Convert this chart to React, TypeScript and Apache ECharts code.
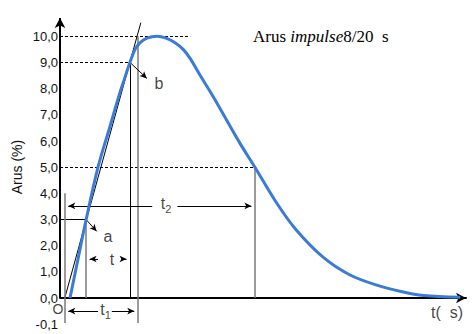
import React, { useEffect, useRef } from 'react';
import * as echarts from 'echarts';

// ---- data ----
// impulse current curve: time (µs) and current level
const curveTime = [0.55, 1.4, 2.25, 3.5, 4.75, 5.8, 6.35, 6.85, 7.4, 7.9, 8.65, 9.7, 10.65, 11.6, 12.45, 13.2, 14.25, 15.6, 18.45, 20.0, 22.25, 24.35, 27.2, 29.9, 32.75, 35.6, 37.7, 41.6];
const curveCurrent = [0, 1.5, 3.0, 5.0, 6.55, 7.85, 8.45, 9.0, 9.5, 9.75, 9.93, 10.0, 9.93, 9.75, 9.5, 9.15, 8.5, 7.7, 5.9, 5.0, 3.65, 2.6, 1.55, 0.9, 0.5, 0.23, 0.1, 0.03];

// y-axis tick values and their printed labels
const yTickValues = [-1, 0, 1, 2, 3, 4, 5, 6, 7, 8, 9, 10];
const yTickLabels = ['-0,1', '0,0', '1,0', '2,0', '3,0', '4,0', '5,0', '6,0', '7,0', '8,0', '9,0', '10,0'];

// texts
const titleParts = ['Arus ', 'impulse', '8/20\u00a0\u00a0s'];
const yAxisTitle = 'Arus (%)';

// construction lines (data coordinates: [time, level])
const dashedSegments = [
  [[-0.5, 10], [13.2, 10]],
  [[-0.5, 9], [6.87, 9]],
  [[-0.5, 5], [20.0, 5]],
];
const blackSegments = [
  [[-0.5, 3], [2.24, 3]],
  [[0, 0], [8.0, 10.52]],
  [[6.87, 9], [6.87, 0]],
];
const graySegments = [
  [[0, 4.0], [0, -0.95]],
  [[2.24, 3], [2.24, 0]],
  [[7.68, 10], [7.68, -0.95]],
  [[20.0, 5], [20.0, 0]],
];
const arrowSegments = [
  [[2.24, 3.0], [3.6, 2.45]],
  [[6.87, 9.0], [8.9, 8.3]],
  [[3.5, 1.49], [2.24, 1.49]],
  [[6.0, 1.49], [6.87, 1.49]],
  [[9.2, 3.52], [0, 3.52]],
  [[11.85, 3.52], [20.0, 3.52]],
  [[3.5, -0.5], [0, -0.5]],
  [[4.95, -0.5], [7.68, -0.5]],
];
const yAxisSegment = [[-0.5, 0], [-0.5, 10.7]];

// annotation labels
const labelTexts = ['{m|a}', '{m|b}', '{m|t}', '{m|t}{sub|2}', '{m|t}{sub|1}', '{o|O}', '{m|t(\u00a0\u00a0s)}'];
const labelCoords = [
  [4.55, 2.37],
  [9.92, 8.18],
  [4.97, 1.49],
  [10.66, 3.6],
  [4.29, -0.45],
  [-0.71, -0.42],
  [40.2, -0.57],
];

// ---- layout ----
const GRID_LEFT = 60;
const GRID_TOP = 18;
const GRID_WIDTH = 406;
const GRID_HEIGHT = 306.2;
const X_MIN = -0.5;
const X_MAX = 42.2;
const Y_MIN = -1;
const Y_MAX = 10.7;
const SANS = '"Liberation Sans", Arial, sans-serif';
const SERIF = '"Liberation Serif", "Times New Roman", serif';
const ARROW_SIZE = [5, 7];

const pxPerX = GRID_WIDTH / (X_MAX - X_MIN);
const pxPerY = GRID_HEIGHT / (Y_MAX - Y_MIN);

// pull the end point back so the arrow tip (symbol centred on end) lands on the target
function shortenEnd(seg: number[][], px: number) {
  const [p, q] = seg;
  const dx = (q[0] - p[0]) * pxPerX;
  const dy = (q[1] - p[1]) * pxPerY;
  const len = Math.sqrt(dx * dx + dy * dy) || 1;
  return [p, [q[0] - (dx / len) * px / pxPerX, q[1] - (dy / len) * px / pxPerY]];
}

const toMarkData = (segs: number[][][]) => segs.map(([p, q]) => [{ coord: p }, { coord: q }]);

function markLineSeries(name: string, data: any[], lineStyle: any, symbol: string[] = ['none', 'none'], symbolSize: any = ARROW_SIZE) {
  return {
    name,
    type: 'line',
    data: [],
    silent: true,
    z: 4,
    markLine: {
      silent: true,
      animation: false,
      symbol,
      symbolSize,
      label: { show: false },
      emphasis: { disabled: true },
      lineStyle,
      data,
    },
  };
}

export default function App() {
  const ref = useRef<HTMLDivElement>(null);

  useEffect(() => {
    if (!ref.current) return;
    const chart = echarts.init(ref.current, null, { renderer: 'svg' });

    const option: any = {
      animation: false,
      backgroundColor: '#ffffff',
      textStyle: { fontFamily: SANS },
      grid: {
        left: GRID_LEFT,
        top: GRID_TOP,
        width: GRID_WIDTH,
        height: GRID_HEIGHT,
        containLabel: false,
        outerBoundsMode: 'none',
      },
      xAxis: {
        type: 'value',
        min: X_MIN,
        max: X_MAX,
        axisLine: {
          show: true,
          onZero: true,
          symbol: ['none', 'arrow'],
          symbolSize: [8, 10],
          lineStyle: { color: '#000', width: 2 },
        },
        axisTick: { show: false },
        axisLabel: { show: false },
        splitLine: { show: false },
      },
      yAxis: {
        type: 'value',
        min: Y_MIN,
        max: Y_MAX,
        interval: 1,
        axisLine: { show: false, onZero: false },
        axisTick: { show: false },
        splitLine: { show: false },
        axisLabel: {
          margin: 2,
          color: '#111',
          fontSize: 13,
          fontFamily: SANS,
          formatter: (v: number) => {
            const i = yTickValues.findIndex((t) => Math.abs(t - v) < 1e-6);
            return i >= 0 ? yTickLabels[i] : '';
          },
        },
      },
      graphic: [
        {
          type: 'text',
          x: 253,
          y: 36,
          silent: true,
          style: {
            text: `{n|${titleParts[0]}}{i|${titleParts[1]}}{n|${titleParts[2]}}`,
            verticalAlign: 'middle',
            align: 'left',
            fill: '#000',
            rich: {
              n: { fontFamily: SERIF, fontSize: 17, fill: '#000' },
              i: { fontFamily: SERIF, fontSize: 17, fontStyle: 'italic', fill: '#000' },
            },
          },
        },
        {
          type: 'text',
          x: 17,
          y: 167,
          rotation: Math.PI / 2,
          silent: true,
          style: {
            text: yAxisTitle,
            fontSize: 14,
            fontFamily: SANS,
            align: 'center',
            verticalAlign: 'middle',
            fill: '#111',
          },
        },
      ],
      series: [
        markLineSeries('dashed', toMarkData(dashedSegments), { color: '#000', width: 1, type: [3, 2] }),
        markLineSeries('black', toMarkData(blackSegments), { color: '#000', width: 1, type: 'solid' }),
        markLineSeries('gray', toMarkData(graySegments), { color: '#7a7a7a', width: 1.5, type: 'solid' }),
        markLineSeries(
          'arrows',
          toMarkData(arrowSegments.map((s) => shortenEnd(s, ARROW_SIZE[1] / 2))),
          { color: '#000', width: 1, type: 'solid' },
          ['none', 'arrow'],
          ARROW_SIZE,
        ),
        markLineSeries('yaxis', toMarkData([yAxisSegment]), { color: '#000', width: 2, type: 'solid' }, ['none', 'arrow'], [8, 10]),
        {
          name: 'Arus',
          type: 'line',
          z: 10,
          smooth: 0.35,
          showSymbol: false,
          silent: true,
          lineStyle: { color: '#3a7bd5', width: 3 },
          data: curveTime.map((t, i) => [t, curveCurrent[i]]),
        },
        {
          name: 'labels',
          type: 'scatter',
          z: 12,
          silent: true,
          clip: false,
          symbolSize: 0,
          itemStyle: { color: 'transparent' },
          label: {
            show: true,
            position: 'inside',
            color: '#111',
            fontFamily: SANS,
            fontSize: 16,
            rich: {
              m: { fontSize: 16, lineHeight: 16, verticalAlign: 'top', color: '#111', fontFamily: SANS },
              o: { fontSize: 14, lineHeight: 14, verticalAlign: 'top', color: '#111', fontFamily: SANS },
              sub: { fontSize: 11, lineHeight: 11, padding: [8, 0, 0, 0], verticalAlign: 'top', color: '#111', fontFamily: SANS },
            },
          },
          data: labelCoords.map((c, i) => ({
            value: c,
            label: { formatter: labelTexts[i] },
          })),
        },
      ],
    };

    chart.setOption(option);
    return () => chart.dispose();
  }, []);

  return (
    <div
      ref={ref}
      style={{ position: 'absolute', left: 0, top: 0, width: 472, height: 334, background: '#fff' }}
    />
  );
}
